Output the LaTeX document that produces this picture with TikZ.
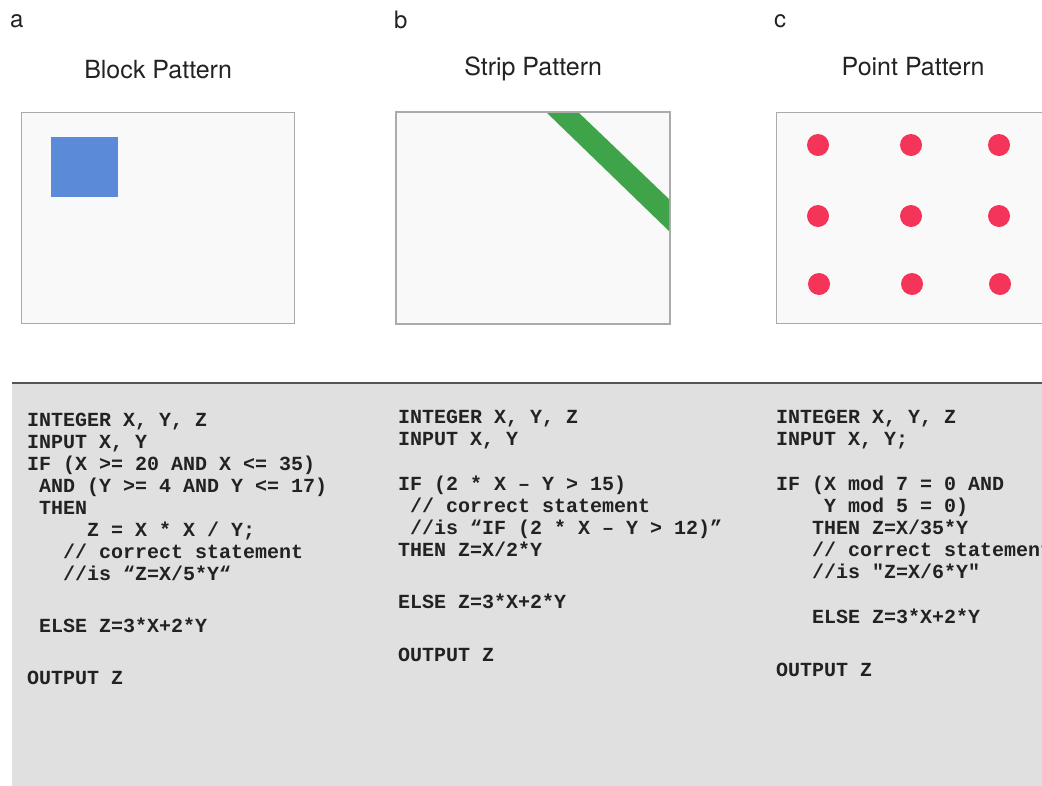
\documentclass[tikz,border=0pt]{standalone}
\usepackage{fontspec}
\setmainfont{TeX Gyre Heros}
\newfontfamily\codefont{Liberation Mono}
\usetikzlibrary{positioning, calc}
\definecolor{paneborder}{HTML}{ABABAB}
\definecolor{panefill}{HTML}{F9F9F9}
\definecolor{blockblue}{HTML}{5B8AD8}
\definecolor{stripgreen}{HTML}{3FA34A}
\definecolor{pointred}{HTML}{F5345A}
\definecolor{codegray}{HTML}{E0E0E0}
\definecolor{rulegray}{HTML}{555555}
\definecolor{inkgray}{HTML}{222222}
\tikzset{
    panebox/.style={draw=paneborder, fill=panefill, line width=1.2pt, inner sep=0pt,
        minimum width=273pt, minimum height=211pt, anchor=north west},
    title/.style={inkgray, font=\fontsize{25}{29}\selectfont, anchor=base, inner sep=0pt},
    sublabel/.style={inkgray, font=\fontsize{24}{28}\selectfont, anchor=base west, inner sep=0pt},
    code/.style={inkgray, font=\codefont\bfseries\fontsize{20}{22}\selectfont, anchor=base west, inner sep=0pt},
}

\begin{document}
\begin{tikzpicture}[x=1pt, y=-1pt]
    \useasboundingbox (0,0) rectangle (1042,785);

    % pattern panes
    \node[panebox] (box_block) at (21,112) {};
    \node[panebox] (box_strip) at (396,112) {};
    \node[panebox] (box_point) at (776,112) {};

    \node[sublabel] (lbl_a) at (10,27) {a};
    \node[sublabel] (lbl_b) at (394,28) {b};
    \node[sublabel] (lbl_c) at (774,27) {c};

    \node[title] (title_block) at ($(box_block.north)+(0,-34)$) {Block Pattern};
    \node[title] (title_strip) at ($(box_strip.north)+(0,-37)$) {Strip Pattern};
    \node[title] (title_point) at ($(box_point.north)+(0,-37)$) {Point Pattern};

    % block
    \fill[blockblue] ($(box_block.north west)+(30,25)$) rectangle ++(67,60);

    % strip
    \begin{scope}
        \clip (396,112) rectangle (669,323);
        \fill[stripgreen] (545,111) -- (577,111) -- (670,200) -- (670,232) -- cycle;
    \end{scope}
    \draw[paneborder, line width=1.2pt] (box_strip.north west) rectangle (box_strip.south east);

    % points
    \fill[pointred] (818,145) circle (11);
    \fill[pointred] (911,145) circle (11);
    \fill[pointred] (999,145) circle (11);
    \fill[pointred] (818,216) circle (11);
    \fill[pointred] (911,216) circle (11);
    \fill[pointred] (999,216) circle (11);
    \fill[pointred] (819,284) circle (11);
    \fill[pointred] (912,284) circle (11);
    \fill[pointred] (1000,284) circle (11);

    % code panel
    \fill[codegray] (12,384) rectangle (1050,790);
    \draw[rulegray, line width=2.5pt] (12,383) -- (1050,383);

    \node[code] (code_block) at (27,426) {\begin{tabular}[t]{@{}l@{}}
        INTEGER X, Y, Z\\
        INPUT X, Y\\
        IF (X >= 20 AND X <= 35)\\
        ~AND (Y >= 4 AND Y <= 17)\\
        ~THEN\\
        ~~~~~Z = X * X / Y;\\
        ~~~// correct statement\\
        ~~~//is “Z=X/5*Y“\\[30pt]
        ~ELSE Z=3*X+2*Y\\[30pt]
        OUTPUT Z
        \end{tabular}};

    \node[code] (code_strip) at (398,423) {\begin{tabular}[t]{@{}l@{}}
        INTEGER X, Y, Z\\
        INPUT X, Y\\[23pt]
        IF (2 * X – Y > 15)\\
        ~// correct statement\\
        ~//is “IF (2 * X – Y > 12)”\\
        THEN Z=X/2*Y\\[30pt]
        ELSE Z=3*X+2*Y\\[31pt]
        OUTPUT Z
        \end{tabular}};

    \node[code] (code_point) at (776,423) {\begin{tabular}[t]{@{}l@{}}
        INTEGER X, Y, Z\\
        INPUT X, Y;\\[23pt]
        IF (X mod 7 = 0 AND\\
        ~~~~Y mod 5 = 0)\\
        ~~~THEN Z=X/35*Y\\
        ~~~// correct statement\\
        ~~~//is "Z=X/6*Y"\\[23pt]
        ~~~ELSE Z=3*X+2*Y\\[31pt]
        OUTPUT Z
        \end{tabular}};
\end{tikzpicture}
\end{document}
